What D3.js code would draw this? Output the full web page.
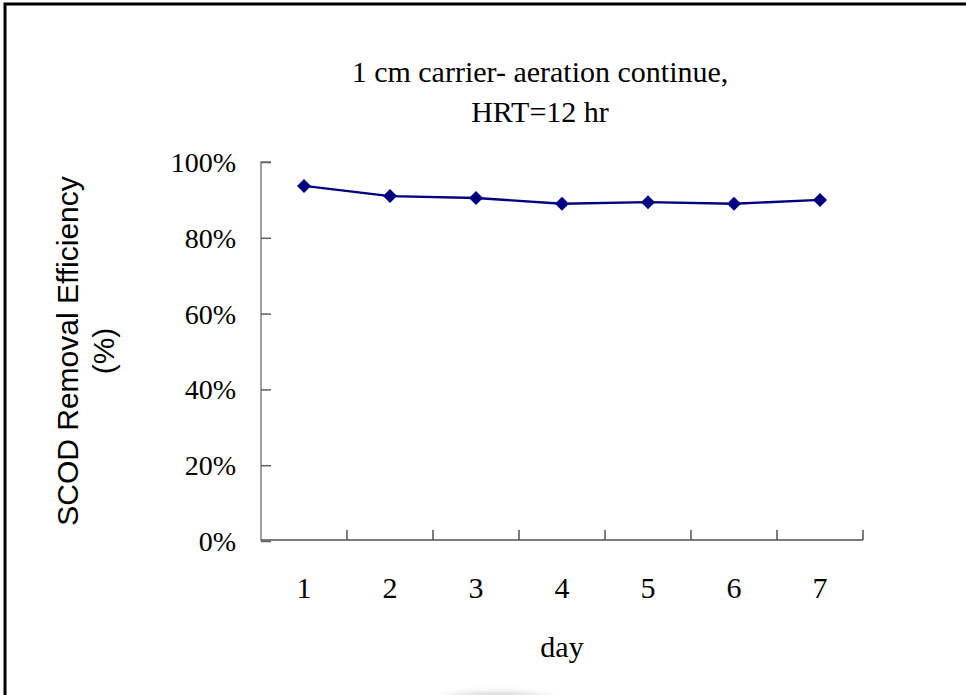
<!DOCTYPE html>
<html>
<head>
<meta charset="utf-8">
<script src="https://cdn.jsdelivr.net/npm/d3@7/dist/d3.min.js"></script>
<style>
  html, body { margin: 0; padding: 0; background: #fff; }
  svg { display: block; }
</style>
</head>
<body>
<svg id="chart" width="966" height="695"></svg>
<script>
// Daily SCOD removal efficiency, 1 cm carrier with continuous aeration
const days = ["1", "2", "3", "4", "5", "6", "7"];
const efficiency = [0.937, 0.910, 0.905, 0.890, 0.894, 0.890, 0.900];
const yTicks = [0, 0.2, 0.4, 0.6, 0.8, 1.0];
const titleLines = ["1 cm carrier- aeration continue,", "HRT=12 hr"];
const yLabelLines = ["SCOD Removal Efficiency", "(%)"];
const xLabel = "day";

const svg = d3.select("#chart");
const W = 966, H = 695;
const plot = { left: 261, right: 863, top: 162, bottom: 541 };
const serif = "'Liberation Serif', 'Times New Roman', serif";
const sans = "'Liberation Sans', Arial, sans-serif";

const defs = svg.append("defs");
defs.append("filter").attr("id", "soft")
  .attr("x", "-50%").attr("y", "-50%").attr("width", "200%").attr("height", "200%")
  .append("feGaussianBlur").attr("stdDeviation", 4);

// outer frame (top and left edges visible)
svg.append("path")
  .attr("d", `M5,${H} L5,4 L${W},4`)
  .attr("fill", "none")
  .attr("stroke", "#000")
  .attr("stroke-width", 3);

// faint grey smudge at the lower edge of the page
svg.append("ellipse")
  .attr("cx", 497).attr("cy", 706)
  .attr("rx", 62).attr("ry", 12)
  .attr("fill", "#a8a8a8")
  .attr("opacity", 0.7)
  .attr("filter", "url(#soft)");

const x = d3.scaleBand().domain(days).range([plot.left, plot.right]);
const y = d3.scaleLinear().domain([0, 1]).range([plot.bottom, plot.top]);

// y axis: ticks point into the plot
const yAxis = svg.append("g").attr("transform", `translate(${plot.left},0)`)
  .call(d3.axisRight(y).tickValues(yTicks).tickSize(10).tickFormat(""));
yAxis.select(".domain").attr("stroke", "#808080").attr("stroke-width", 1.5)
  .attr("d", `M10,${plot.top}H0V${plot.bottom}`);
yAxis.selectAll(".tick line").attr("stroke", "#606060").attr("stroke-width", 1.5);

svg.append("g").selectAll("text").data(yTicks).join("text")
  .attr("x", plot.left - 25)
  .attr("y", d => y(d) + 10)
  .attr("text-anchor", "end")
  .attr("font-family", serif)
  .attr("font-size", 28)
  .attr("fill", "#000")
  .text(d => d3.format(".0%")(d));

// x axis: category boundaries with inward ticks
const bounds = days.map(d => x(d)).concat([plot.right]);
const xAxisG = svg.append("g");
xAxisG.append("line")
  .attr("x1", plot.left).attr("x2", plot.right)
  .attr("y1", plot.bottom - 1).attr("y2", plot.bottom - 1)
  .attr("stroke", "#505050").attr("stroke-width", 1.5);
xAxisG.selectAll(".xt").data(bounds.slice(1)).join("line")
  .attr("class", "xt")
  .attr("x1", d => d).attr("x2", d => d)
  .attr("y1", plot.bottom - 1).attr("y2", plot.bottom - 11)
  .attr("stroke", "#505050").attr("stroke-width", 1.5);

svg.append("g").selectAll("text").data(days).join("text")
  .attr("x", d => x(d) + x.bandwidth() / 2)
  .attr("y", 598)
  .attr("text-anchor", "middle")
  .attr("font-family", serif)
  .attr("font-size", 30)
  .attr("fill", "#000")
  .text(d => d);

// data line and diamond markers
const cx = (d, i) => x(days[i]) + x.bandwidth() / 2;
svg.append("path")
  .datum(efficiency)
  .attr("fill", "none")
  .attr("stroke", "#000080")
  .attr("stroke-width", 2.4)
  .attr("d", d3.line().x(cx).y(d => y(d)));

svg.append("g").selectAll("path").data(efficiency).join("path")
  .attr("transform", (d, i) => `translate(${cx(d, i)},${y(d)})`)
  .attr("d", "M0,-7 L7,0 L0,7 L-7,0 Z")
  .attr("fill", "#000080");

// titles
svg.append("g").selectAll("text").data(titleLines).join("text")
  .attr("x", 540)
  .attr("y", (d, i) => 82 + i * 40)
  .attr("text-anchor", "middle")
  .attr("font-family", serif)
  .attr("font-size", 30)
  .attr("fill", "#000")
  .text(d => d);

svg.append("text")
  .attr("x", 562).attr("y", 657)
  .attr("text-anchor", "middle")
  .attr("font-family", serif)
  .attr("font-size", 30)
  .attr("fill", "#000")
  .text(xLabel);

const yl = svg.append("g").attr("transform", "translate(0,351) rotate(-90)");
yl.selectAll("text").data(yLabelLines).join("text")
  .attr("x", 0)
  .attr("y", (d, i) => 78 + i * 36)
  .attr("text-anchor", "middle")
  .attr("font-family", sans)
  .attr("font-size", 30)
  .attr("fill", "#000")
  .text(d => d);
</script>
</body>
</html>
